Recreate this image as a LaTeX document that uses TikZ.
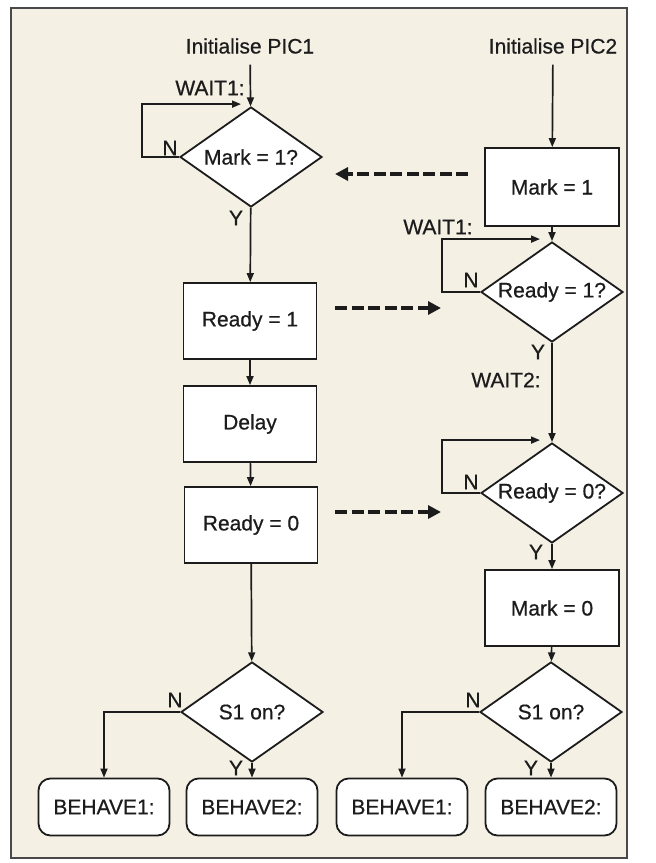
\documentclass[tikz,border=0pt]{standalone}
\usepackage{fontspec}
\setmainfont{Liberation Sans}[FakeBold=0.6]
\usetikzlibrary{shapes.geometric,arrows.meta}
\definecolor{paper}{RGB}{244,240,228}
\definecolor{ink}{RGB}{28,28,28}
\begin{document}
\begin{tikzpicture}[x=1pt,y=-1pt,
  every node/.style={font=\fontsize{21}{25}\selectfont, text=ink},
  proc/.style={draw=ink, line width=1.8pt, fill=white, minimum width=133pt, minimum height=76pt, inner sep=0pt},
  term/.style={draw=ink, line width=1.8pt, fill=white, rounded corners=12pt, minimum width=131pt, minimum height=57pt, inner sep=0pt},
  decision/.style={diamond, draw=ink, line width=1.8pt, fill=white, aspect=1.42, minimum width=142pt, minimum height=100pt, inner sep=0pt},
  flow/.style={draw=ink, line width=1.7pt, -{Triangle[length=9pt,width=7pt]}},
  signal/.style={draw=ink, line width=3.2pt, dash pattern=on 12pt off 4.5pt, -{Triangle[length=13pt,width=13pt]}},
  lbl/.style={inner sep=0pt},
  title/.style={inner sep=0pt, outer sep=11pt}
]
\useasboundingbox (0,0) rectangle (656,863);
\fill[white] (0,0) rectangle (656,863);
\filldraw[fill=paper, draw=ink!80, line width=1.5pt] (11,8) rectangle (627,858);

% left column (PIC1)
\node[title] (t1) at (250,46) {Initialise PIC1};
\node[decision] (d1) at (251,157) {Mark = 1?};
\node[proc] (r1) at (250,321) {Ready = 1};
\node[proc] (dl) at (250,424) {Delay};
\node[proc] (r0) at (251,525) {Ready = 0};
\node[decision] (s1) at (252,712) {S1 on?};
\node[term] (b1) at (104,807) {BEHAVE1:};
\node[term] (b2) at (252,807) {BEHAVE2:};

% right column (PIC2)
\node[title] (t2) at (553,46) {Initialise PIC2};
\node[proc, minimum width=134pt, minimum height=78pt] (m1) at (552,187) {Mark = 1};
\node[decision] (d2) at (552,292) {Ready = 1?};
\node[decision] (d3) at (552,493) {Ready = 0?};
\node[proc, minimum width=134pt] (m0) at (552,608) {Mark = 0};
\node[decision] (s2) at (551,712) {S1 on?};
\node[term] (b3) at (402,807) {BEHAVE1:};
\node[term] (b4) at (551,807) {BEHAVE2:};

% labels
\node[lbl] (w1) at (210,88) {WAIT1:};
\node[lbl] (n1) at (170,148) {N};
\node[lbl] (y1) at (236,218) {Y};
\node[lbl] (w2) at (438,227) {WAIT1:};
\node[lbl] (n2) at (471,280) {N};
\node[lbl] (y2) at (538,352) {Y};
\node[lbl] (w3) at (506,380) {WAIT2:};
\node[lbl] (n3) at (471,482) {N};
\node[lbl] (y3) at (536,552) {Y};
\node[lbl] (n4) at (175,700) {N};
\node[lbl] (y4) at (236,768) {Y};
\node[lbl] (n5) at (473,700) {N};
\node[lbl] (y5) at (531,768) {Y};

% left flow
\draw[flow] (t1) -- (d1);
\draw[flow] (d1.west) -- ++(-37,0) |- ([xshift=-10pt,yshift=2pt]d1.north);
\draw[flow] (d1) -- (r1);
\draw[flow] (r1) -- (dl);
\draw[flow] (dl) -- (r0);
\draw[flow] (r0) -- (s1);
\draw[flow] (s1.west) -| (b1.north);
\draw[flow] (s1) -- (b2);

% right flow
\draw[flow] (t2) -- (m1);
\draw[flow] (m1) -- (d2);
\draw[flow] (d2.west) -- ++(-38,0) |- ([xshift=-12pt,yshift=2pt]d2.north);
\draw[flow] (d2) -- (d3);
\draw[flow] (d3.west) -- ++(-38,0) |- ([xshift=-12pt,yshift=2pt]d3.north);
\draw[flow] (d3) -- (m0);
\draw[flow] (m0) -- (s2);
\draw[flow] (s2.west) -| (b3.north);
\draw[flow] (s2) -- (b4);

% handshake signals
\coordinate (sa1) at (468,174);
\coordinate (sa2) at (335,174);
\coordinate (sb1) at (335,308);
\coordinate (sb2) at (441,308);
\coordinate (sc1) at (335,512);
\coordinate (sc2) at (441,512);
\draw[signal] (sa1) -- (sa2);
\draw[signal] (sb1) -- (sb2);
\draw[signal] (sc1) -- (sc2);
\end{tikzpicture}
\end{document}
